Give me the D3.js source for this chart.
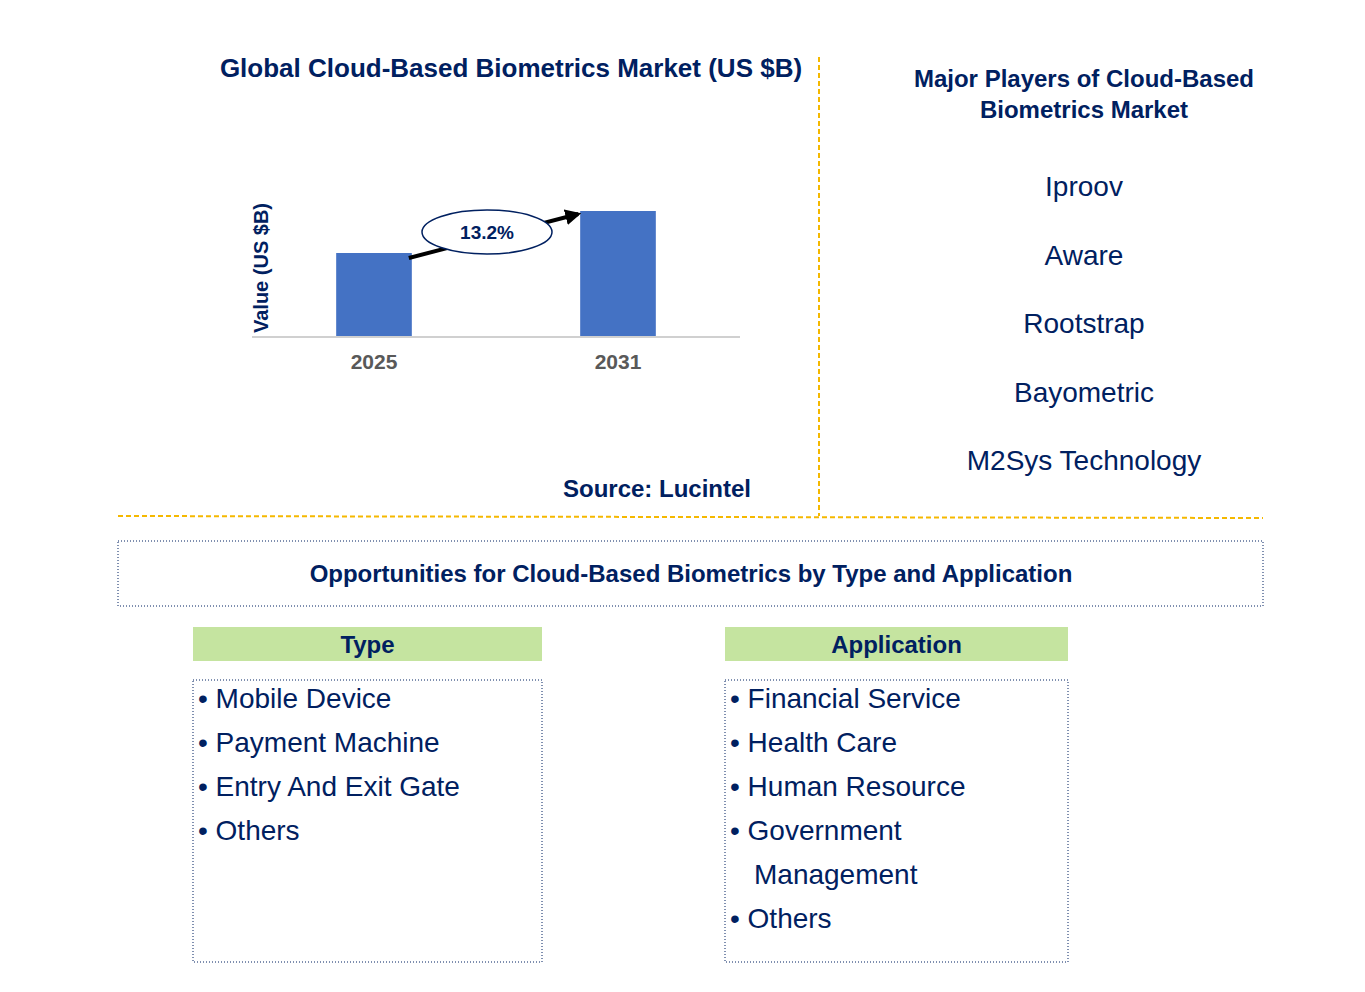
<!DOCTYPE html>
<html><head><meta charset="utf-8">
<script src="https://cdn.jsdelivr.net/npm/d3@7"></script>
<style>body{margin:0;background:#fff;font-family:Arial,"Liberation Sans",sans-serif}</style>
</head><body>
<svg id="c" width="1365" height="992"></svg>
<script>
const years = ['2025', '2031'];
const values = [2.1, 3.15];
const cagr = '13.2%';
const players = ['Iproov', 'Aware', 'Rootstrap', 'Bayometric', 'M2Sys Technology'];
const types = ['Mobile Device', 'Payment Machine', 'Entry And Exit Gate', 'Others'];
const applications = [['Financial Service'], ['Health Care'], ['Human Resource'], ['Government', 'Management'], ['Others']];

const navy = '#002060', gold = '#f5b800', blue = '#4472c4', green = '#c5e4a0';
const svg = d3.select('#c');

// chart
const x = d3.scaleBand().domain(years).range([252, 740]).paddingInner(0.69).paddingOuter(0.345);
const y = d3.scaleLinear().domain([0, 3.3]).range([337, 205]);
svg.append('text').attr('x', 511).attr('y', 77).attr('text-anchor', 'middle')
  .attr('font-size', 26).attr('font-weight', 'bold').attr('fill', navy)
  .text('Global Cloud-Based Biometrics Market (US $B)');
svg.selectAll('rect.bar').data(values).enter().append('rect').attr('class', 'bar')
  .attr('x', (d, i) => x(years[i])).attr('y', d => y(d))
  .attr('width', x.bandwidth()).attr('height', d => y(0) - y(d)).attr('fill', blue);
svg.append('line').attr('x1', 252).attr('x2', 740).attr('y1', y(0)).attr('y2', y(0))
  .attr('stroke', '#d0d0d0').attr('stroke-width', 2);
const xa = svg.append('g').attr('transform', `translate(0,${y(0)})`)
  .call(d3.axisBottom(x).tickSize(0).tickPadding(17));
xa.select('.domain').remove();
xa.selectAll('text').attr('font-size', 21).attr('font-weight', 'bold').attr('fill', '#595959')
  .attr('font-family', 'Arial,"Liberation Sans",sans-serif');
svg.append('text').attr('transform', 'translate(268,268) rotate(-90)').attr('text-anchor', 'middle')
  .attr('font-size', 20).attr('font-weight', 'bold').attr('fill', navy).text('Value (US $B)');
// arrow
svg.append('defs').append('marker').attr('id', 'ah').attr('viewBox', '0 0 10 10')
  .attr('refX', 8).attr('refY', 5).attr('markerWidth', 4).attr('markerHeight', 4).attr('orient', 'auto')
  .append('path').attr('d', 'M0,0L10,5L0,10z').attr('fill', '#000');
const ax1 = x(years[0]) + x.bandwidth() - 3, ay1 = y(values[0]) + 5;
const ax2 = x(years[1]) - 2, ay2 = y(values[1]) + 3;
svg.append('line').attr('x1', ax1).attr('y1', ay1).attr('x2', ax2).attr('y2', ay2)
  .attr('stroke', '#000').attr('stroke-width', 4).attr('marker-end', 'url(#ah)');
svg.append('ellipse').attr('cx', 487).attr('cy', 232).attr('rx', 65).attr('ry', 22)
  .attr('fill', '#fff').attr('stroke', navy).attr('stroke-width', 1.5);
svg.append('text').attr('x', 487).attr('y', 239).attr('text-anchor', 'middle')
  .attr('font-size', 19).attr('font-weight', 'bold').attr('fill', navy).text(cagr);
svg.append('text').attr('x', 657).attr('y', 497).attr('text-anchor', 'middle')
  .attr('font-size', 24).attr('font-weight', 'bold').attr('fill', navy).text('Source: Lucintel');

// dividers
svg.append('line').attr('x1', 819).attr('x2', 819).attr('y1', 57).attr('y2', 516)
  .attr('stroke', gold).attr('stroke-width', 2).attr('stroke-dasharray', '5,3');
svg.append('line').attr('x1', 118).attr('x2', 1263).attr('y1', 516).attr('y2', 518)
  .attr('stroke', gold).attr('stroke-width', 2).attr('stroke-dasharray', '5,3');

// players
svg.append('text').attr('x', 1084).attr('y', 87).attr('text-anchor', 'middle')
  .attr('font-size', 24).attr('font-weight', 'bold').attr('fill', navy).text('Major Players of Cloud-Based');
svg.append('text').attr('x', 1084).attr('y', 118).attr('text-anchor', 'middle')
  .attr('font-size', 24).attr('font-weight', 'bold').attr('fill', navy).text('Biometrics Market');
svg.selectAll('text.pl').data(players).enter().append('text').attr('class', 'pl')
  .attr('x', 1084).attr('y', (d, i) => 196 + i * 68.5).attr('text-anchor', 'middle')
  .attr('font-size', 28).attr('fill', navy).text(d => d);

// opportunities
svg.append('rect').attr('x', 118).attr('y', 541).attr('width', 1145).attr('height', 65)
  .attr('fill', 'none').attr('stroke', navy).attr('stroke-dasharray', '1,2');
svg.append('text').attr('x', 691).attr('y', 582).attr('text-anchor', 'middle')
  .attr('font-size', 24).attr('font-weight', 'bold').attr('fill', navy)
  .text('Opportunities for Cloud-Based Biometrics by Type and Application');

function panel(x0, w, title, items) {
  svg.append('rect').attr('x', x0).attr('y', 627).attr('width', w).attr('height', 34).attr('fill', green);
  svg.append('text').attr('x', x0 + w / 2).attr('y', 653).attr('text-anchor', 'middle')
    .attr('font-size', 24).attr('font-weight', 'bold').attr('fill', navy).text(title);
  svg.append('rect').attr('x', x0).attr('y', 680).attr('width', w).attr('height', 282)
    .attr('fill', 'none').attr('stroke', navy).attr('stroke-dasharray', '1,2');
  let row = 0;
  items.forEach(it => {
    const lines = Array.isArray(it) ? it : [it];
    lines.forEach((l, j) => {
      svg.append('text').attr('x', x0 + (j ? 29 : 5)).attr('y', 708 + row * 44)
        .attr('font-size', 28).attr('fill', navy).text(j ? l : '\u2022 ' + l);
      row++;
    });
  });
}
panel(193, 349, 'Type', types);
panel(725, 343, 'Application', applications);
</script>
</body></html>
